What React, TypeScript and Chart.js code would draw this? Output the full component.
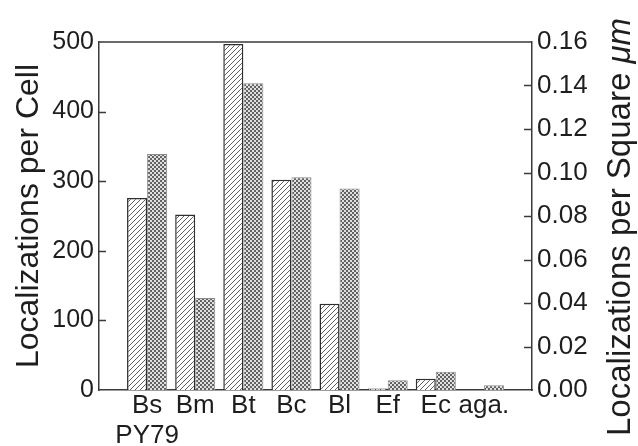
import React, { useEffect, useRef } from 'react';
import { Chart, registerables } from 'chart.js';

Chart.register(...registerables);

// ---- data ----
const categories = ['Bs', 'Bm', 'Bt', 'Bc', 'Bl', 'Ef', 'Ec', 'aga.'];
const strainNote = 'PY79';
const perCell = [276, 252, 497, 302, 124, 2, 16, 0];
const perSquareMicron = [0.1085, 0.0423, 0.141, 0.0978, 0.0926, 0.0045, 0.0084, 0.0022];
const leftRange = [0, 500];
const leftStep = 100;
const rightRange = [0, 0.16];
const rightStep = 0.02;
const leftTitle = 'Localizations per Cell';
const rightTitleMain = 'Localizations per Square ';
const rightTitleUnit = 'μm';

const FONT = "'Liberation Sans', Arial, Helvetica, sans-serif";
const AXIS = '#3a3a3a';
const TEXT = '#1e1e1e';

function hatchPattern(): CanvasPattern | string {
  const c = document.createElement('canvas');
  const s = 5;
  c.width = s; c.height = s;
  const g = c.getContext('2d');
  if (!g) return '#fff';
  g.fillStyle = '#ffffff';
  g.fillRect(0, 0, s, s);
  g.strokeStyle = '#606060';
  g.lineWidth = 1;
  g.beginPath();
  g.moveTo(0, s); g.lineTo(s, 0);
  g.moveTo(-1, 1); g.lineTo(1, -1);
  g.moveTo(s - 1, s + 1); g.lineTo(s + 1, s - 1);
  g.stroke();
  return g.createPattern(c, 'repeat') || '#fff';
}

function checkerPattern(): CanvasPattern | string {
  const c = document.createElement('canvas');
  c.width = 4; c.height = 4;
  const g = c.getContext('2d');
  if (!g) return '#999';
  g.fillStyle = '#e0e0e0';
  g.fillRect(0, 0, 4, 4);
  g.fillStyle = '#626262';
  g.fillRect(0, 0, 2, 2);
  g.fillRect(2, 2, 2, 2);
  return g.createPattern(c, 'repeat') || '#999';
}

const framePlugin = {
  id: 'frame',
  afterDraw(chart: any) {
    const { ctx, chartArea: a } = chart;
    const yl = chart.scales.y;
    const yr = chart.scales.y2;
    ctx.save();
    ctx.strokeStyle = AXIS;
    ctx.lineWidth = 1.5;
    ctx.beginPath();
    ctx.moveTo(a.left, a.top);
    ctx.lineTo(a.right, a.top);
    yl.ticks.forEach((t: any) => {
      if (t.value <= yl.min || t.value >= yl.max) return;
      const y = Math.round(yl.getPixelForValue(t.value)) + 0.5;
      ctx.moveTo(a.left, y);
      ctx.lineTo(a.left + 7, y);
    });
    yr.ticks.forEach((t: any) => {
      if (t.value <= yr.min + 1e-9 || t.value >= yr.max - 1e-9) return;
      const y = Math.round(yr.getPixelForValue(t.value)) + 0.5;
      ctx.moveTo(a.right, y);
      ctx.lineTo(a.right - 8, y);
    });
    ctx.stroke();

    // right-hand title, reading bottom-to-top, with italic unit
    const size = 33;
    const fMain = `${size}px ${FONT}`;
    const fUnit = `italic ${size}px ${FONT}`;
    ctx.font = fMain;
    const w1 = ctx.measureText(rightTitleMain).width;
    ctx.font = fUnit;
    const w2 = ctx.measureText(rightTitleUnit).width;
    const total = w1 + w2;
    const cx = chart.width - 17;
    const cy = (a.top + a.bottom) / 2 + 11;
    ctx.translate(cx, cy);
    ctx.rotate(-Math.PI / 2);
    ctx.fillStyle = TEXT;
    ctx.textBaseline = 'middle';
    ctx.textAlign = 'left';
    ctx.font = fMain;
    ctx.fillText(rightTitleMain, -total / 2, 0);
    ctx.font = fUnit;
    ctx.fillText(rightTitleUnit, -total / 2 + w1, 0);
    ctx.restore();
  },
};

export default function App() {
  const ref = useRef<HTMLCanvasElement | null>(null);

  useEffect(() => {
    document.body.style.margin = '0';
    const canvas = ref.current;
    if (!canvas) return;

    const labels: (string | string[])[] = [
      '',
      ...categories.map((c, i) => (i === 0 ? [c, strainNote] : c)),
      '',
    ];
    const pad = (arr: number[]) => [null, ...arr.map((v) => (v === 0 ? null : v)), null];

    const chart = new Chart(canvas, {
      type: 'bar',
      data: {
        labels,
        datasets: [
          {
            label: 'per cell',
            data: pad(perCell) as any,
            yAxisID: 'y',
            backgroundColor: hatchPattern() as any,
            borderColor: '#2e2e2e',
            borderWidth: 1.5,
            borderSkipped: 'start',
            barPercentage: 1,
            categoryPercentage: 0.833,
          },
          {
            label: 'per square micron',
            data: pad(perSquareMicron) as any,
            yAxisID: 'y2',
            backgroundColor: checkerPattern() as any,
            borderColor: '#8a8a8a',
            borderWidth: 1,
            borderSkipped: 'start',
            barPercentage: 1,
            categoryPercentage: 0.833,
          },
        ],
      },
      options: {
        responsive: false,
        animation: false,
        devicePixelRatio: 1,
        layout: { padding: { top: 42, left: 0, right: 0, bottom: 0 } },
        plugins: { legend: { display: false }, tooltip: { enabled: false } },
        scales: {
          x: {
            type: 'category',
            offset: false,
            grid: { display: false, drawTicks: false },
            border: { display: true, color: AXIS, width: 1.5 },
            ticks: {
              color: TEXT,
              font: { family: FONT, size: 26, lineHeight: 1.18 },
              padding: 0,
              autoSkip: false,
              maxRotation: 0,
              minRotation: 0,
            },
            afterFit: (s: any) => { s.height = 56; },
          },
          y: {
            type: 'linear',
            position: 'left',
            min: leftRange[0],
            max: leftRange[1],
            grid: { display: false, drawTicks: false },
            border: { display: true, color: AXIS, width: 1.5 },
            ticks: {
              stepSize: leftStep,
              color: TEXT,
              font: { family: FONT, size: 25 },
              padding: 5,
            },
            title: {
              display: true,
              text: leftTitle,
              color: TEXT,
              font: { family: FONT, size: 32, lineHeight: 1.2 },
              padding: { top: 10, bottom: 0 },
            },
            afterFit: (s: any) => { s.width = 99; },
          },
          y2: {
            type: 'linear',
            position: 'right',
            min: rightRange[0],
            max: rightRange[1],
            grid: { display: false, drawTicks: false },
            border: { display: true, color: AXIS, width: 1.5 },
            ticks: {
              stepSize: rightStep,
              color: TEXT,
              font: { family: FONT, size: 26 },
              padding: 5,
              callback: (v: any) => Number(v).toFixed(2),
            },
            afterFit: (s: any) => { s.width = 106; },
          },
        },
      },
      plugins: [framePlugin],
    });

    return () => chart.destroy();
  }, []);

  return <canvas ref={ref} width={638} height={446} style={{ display: 'block' }} />;
}
